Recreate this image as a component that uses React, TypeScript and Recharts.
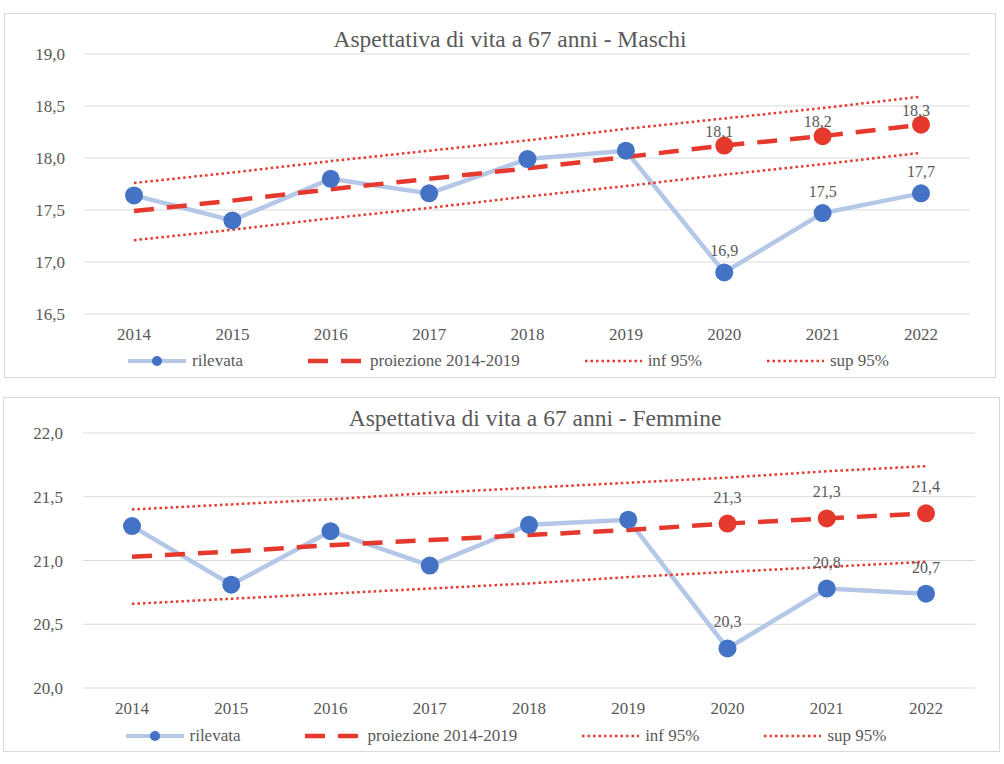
import { LineChart, Line, XAxis, YAxis, CartesianGrid, Legend } from 'recharts';

const FONT = '"Liberation Serif", "Times New Roman", serif';
const GREY = '#595959';
const BLUE = '#4472c4';
const LIGHT_BLUE = '#b4c7e7';
const RED = '#e5392e';

const years = ['2014', '2015', '2016', '2017', '2018', '2019', '2020', '2021', '2022'];

const maschiRilevata = [17.64, 17.4, 17.8, 17.66, 17.99, 18.07, 16.9, 17.47, 17.66];
const maschiProiezione = [17.49, 17.59, 17.7, 17.8, 17.9, 18.01, 18.12, 18.21, 18.32];
const maschiInf = [17.21, 17.31, 17.42, 17.52, 17.63, 17.73, 17.84, 17.94, 18.05];
const maschiSup = [17.76, 17.86, 17.97, 18.07, 18.17, 18.28, 18.38, 18.48, 18.59];
const maschiTicks = [16.5, 17, 17.5, 18, 18.5, 19];

const femmineRilevata = [21.27, 20.81, 21.23, 20.96, 21.28, 21.32, 20.31, 20.78, 20.74];
const femmineProiezione = [21.03, 21.07, 21.12, 21.16, 21.2, 21.24, 21.29, 21.33, 21.37];
const femmineInf = [20.66, 20.7, 20.74, 20.78, 20.82, 20.87, 20.91, 20.95, 20.99];
const femmineSup = [21.4, 21.44, 21.48, 21.53, 21.57, 21.61, 21.65, 21.7, 21.74];
const femmineTicks = [20, 20.5, 21, 21.5, 22];

// first year shown with markers/labels on the projection
const FIRST_LABELLED = 6;

const fmt = (v: number) => v.toFixed(1).replace('.', ',');

function makeDot(color: string, from: number, dy: number, dx: number, dataKey: string) {
  return (p: any) => {
    const { cx, cy, index, payload } = p;
    if (index < from || cx == null || cy == null) return <g key={`d-${dataKey}-${index}`} />;
    const showLabel = index >= FIRST_LABELLED;
    return (
      <g key={`d-${dataKey}-${index}`}>
        <circle cx={cx} cy={cy} r={9} fill={color} />
        {showLabel && (
          <text x={cx + dx} y={cy - dy} textAnchor="middle" fill={GREY} fontSize={16} fontFamily={FONT}>
            {fmt(payload[dataKey])}
          </text>
        )}
      </g>
    );
  };
}

function LegendRow({ shift }: { shift: number }) {
  const text = { marginLeft: 6, whiteSpace: 'nowrap' as const };
  return (
    <div
      style={{
        display: 'flex',
        justifyContent: 'center',
        alignItems: 'center',
        gap: 65,
        height: 20,
        paddingLeft: shift,
        fontFamily: FONT,
        fontSize: 17,
        color: GREY,
      }}
    >
      <div style={{ display: 'flex', alignItems: 'center' }}>
        <svg width={58} height={12}>
          <line x1={0} y1={6} x2={58} y2={6} stroke={LIGHT_BLUE} strokeWidth={4} />
          <circle cx={29} cy={6} r={5} fill={BLUE} />
        </svg>
        <span style={text}>rilevata</span>
      </div>
      <div style={{ display: 'flex', alignItems: 'center' }}>
        <svg width={53} height={12}>
          <line x1={0} y1={6} x2={53} y2={6} stroke={RED} strokeWidth={4.5} strokeDasharray="20 13" />
        </svg>
        <span style={{ ...text, marginLeft: 9 }}>proiezione 2014-2019</span>
      </div>
      <div style={{ display: 'flex', alignItems: 'center' }}>
        <svg width={57} height={12}>
          <line x1={0} y1={6} x2={57} y2={6} stroke={RED} strokeWidth={2.5} strokeDasharray="2.5 3" />
        </svg>
        <span style={text}>inf 95%</span>
      </div>
      <div style={{ display: 'flex', alignItems: 'center' }}>
        <svg width={57} height={12}>
          <line x1={0} y1={6} x2={57} y2={6} stroke={RED} strokeWidth={2.5} strokeDasharray="2.5 3" />
        </svg>
        <span style={text}>sup 95%</span>
      </div>
    </div>
  );
}

type PanelProps = {
  title: string;
  left: number;
  top: number;
  width: number;
  height: number;
  titleCx: number;
  titleTop: number;
  rilevata: number[];
  proiezione: number[];
  inf: number[];
  sup: number[];
  ticks: number[];
  margin: { top: number; right: number; bottom: number; left: number };
  xAxisHeight: number;
  legendShift: number;
  redDy: number;
  redDx: number;
  blueDy: number;
};

function Panel(props: PanelProps) {
  const { title, left, top, width, height, titleCx, titleTop, rilevata, proiezione, inf, sup, ticks, margin } = props;
  const rows = years.map((year, i) => ({
    year,
    rilevata: rilevata[i],
    proiezione: proiezione[i],
    inf: inf[i],
    sup: sup[i],
  }));
  return (
    <div
      style={{
        position: 'absolute',
        left,
        top,
        width,
        height,
        border: '1px solid #d9d9d9',
        boxSizing: 'border-box',
        background: '#fff',
      }}
    >
      <div
        style={{
          position: 'absolute',
          left: titleCx - 300,
          width: 600,
          top: titleTop,
          height: 30,
          lineHeight: '30px',
          textAlign: 'center',
          fontFamily: FONT,
          fontSize: 23.5,
          color: GREY,
        }}
      >
        {title}
      </div>
      <div style={{ position: 'absolute', left: -1, top: -1 }}>
        <LineChart width={width} height={height} data={rows} margin={margin} style={{ fontFamily: FONT }}>
          <CartesianGrid vertical={false} stroke="#d9d9d9" strokeWidth={1.2} />
          <XAxis
            dataKey="year"
            axisLine={false}
            tickLine={false}
            tickSize={0}
            tickMargin={14}
            height={props.xAxisHeight}
            padding={{ left: 49, right: 49 }}
            tick={{ fill: GREY, fontSize: 17, fontFamily: FONT }}
          />
          <YAxis
            domain={[ticks[0], ticks[ticks.length - 1]]}
            ticks={ticks}
            axisLine={false}
            tickLine={false}
            tickSize={0}
            tickMargin={20}
            width={60}
            tickFormatter={fmt}
            tick={{ fill: GREY, fontSize: 17, fontFamily: FONT }}
          />
          <Legend
            verticalAlign="bottom"
            height={20}
            wrapperStyle={{ left: 0, width, bottom: margin.bottom }}
            content={() => <LegendRow shift={props.legendShift} />}
          />
          <Line
            dataKey="rilevata"
            stroke={LIGHT_BLUE}
            strokeWidth={4.5}
            dot={makeDot(BLUE, 0, props.blueDy, 0, 'rilevata')}
            activeDot={false}
            isAnimationActive={false}
          />
          <Line
            dataKey="proiezione"
            stroke={RED}
            strokeWidth={4.5}
            strokeDasharray="20 13"
            dot={makeDot(RED, FIRST_LABELLED, props.redDy, props.redDx, 'proiezione')}
            activeDot={false}
            isAnimationActive={false}
          />
          <Line
            dataKey="inf"
            stroke={RED}
            strokeWidth={2.5}
            strokeDasharray="2.5 3"
            dot={false}
            activeDot={false}
            isAnimationActive={false}
          />
          <Line
            dataKey="sup"
            stroke={RED}
            strokeWidth={2.5}
            strokeDasharray="2.5 3"
            dot={false}
            activeDot={false}
            isAnimationActive={false}
          />
        </LineChart>
      </div>
    </div>
  );
}

export default function App() {
  return (
    <div style={{ position: 'absolute', left: 0, top: 0, width: 1004, height: 764, background: '#fff' }}>
      <Panel
        title="Aspettativa di vita a 67 anni - Maschi"
        left={4}
        top={13}
        width={992}
        height={365}
        titleCx={505}
        titleTop={9.5}
        rilevata={maschiRilevata}
        proiezione={maschiProiezione}
        inf={maschiInf}
        sup={maschiSup}
        ticks={maschiTicks}
        margin={{ top: 41, right: 26, bottom: 7, left: 21 }}
        xAxisHeight={37}
        legendShift={17}
        redDy={9}
        redDx={-5}
        blueDy={16}
      />
      <Panel
        title="Aspettativa di vita a 67 anni - Femmine"
        left={3}
        top={397}
        width={997}
        height={355}
        titleCx={531}
        titleTop={4.5}
        rilevata={femmineRilevata}
        proiezione={femmineProiezione}
        inf={femmineInf}
        sup={femmineSup}
        ticks={femmineTicks}
        margin={{ top: 36, right: 25, bottom: 6, left: 20 }}
        xAxisHeight={38}
        legendShift={9}
        redDy={21}
        redDx={0}
        blueDy={21}
      />
    </div>
  );
}
